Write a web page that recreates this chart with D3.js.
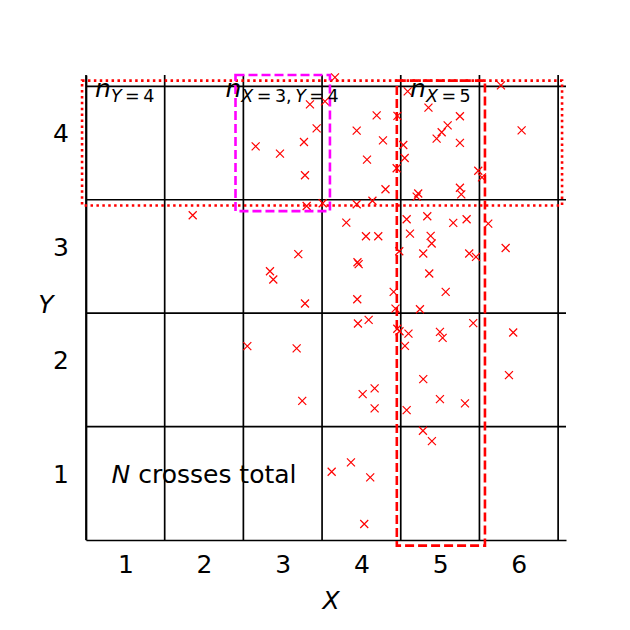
<!DOCTYPE html>
<html>
<head>
<meta charset="utf-8">
<script src="https://cdn.jsdelivr.net/npm/d3@7"></script>
<style>
  html, body { margin: 0; padding: 0; background: #fff; }
  svg text { font-family: "DejaVu Sans", sans-serif; fill: #000; }
</style>
</head>
<body>
<svg id="chart" width="630" height="630"></svg>
<script>
// ---- data ----
const xTicks = [1, 2, 3, 4, 5, 6];
const yTicks = [1, 2, 3, 4];
const xLines = [0.5, 1.5, 2.5, 3.5, 4.5, 5.5, 6.5];
const yLines = [1.42, 2.42, 3.42, 4.42];

const crossX = [5.773, 3.664, 3.346, 3.537, 3.431, 2.656, 2.965, 3.270, 3.283, 3.304,
  3.508, 1.856, 4.194, 4.458, 4.588, 4.852, 3.940, 4.274, 4.071, 4.448,
  4.532, 4.550, 4.306, 4.140, 3.940, 4.956, 5.020, 5.096, 5.252, 5.252,
  5.485, 5.532, 4.722, 4.702, 5.252, 5.269, 6.036, 3.808, 4.058, 3.198,
  2.838, 2.880, 3.950, 3.965, 3.283, 3.947, 3.956, 4.092, 4.214, 4.410,
  4.433, 4.481, 4.575, 4.617, 4.456, 4.484, 4.598, 4.744, 4.837, 5.167,
  5.337, 5.612, 4.880, 4.893, 4.786, 5.370, 5.456, 5.833, 4.862, 5.071,
  5.421, 4.998, 5.032, 4.553, 5.929, 4.786, 5.875, 4.998, 5.316, 4.575,
  4.782, 4.896, 2.550, 3.177, 3.248, 4.016, 4.168, 4.168, 3.622, 3.867,
  4.112, 4.036];
const crossY = [4.429, 4.499, 4.261, 4.288, 4.050, 3.891, 3.827, 3.929, 3.636, 3.365,
  3.389, 3.283, 4.164, 4.160, 4.376, 4.232, 4.030, 3.944, 3.774, 3.698,
  3.903, 3.788, 3.513, 3.411, 3.380, 3.959, 4.015, 4.076, 4.156, 3.922,
  3.676, 3.618, 3.475, 3.448, 3.526, 3.467, 4.032, 3.219, 3.098, 2.940,
  2.790, 2.717, 2.869, 2.852, 2.505, 2.543, 2.329, 2.361, 3.098, 2.608,
  2.460, 2.966, 3.248, 3.122, 2.283, 2.261, 2.239, 2.455, 3.275, 3.216,
  3.248, 3.210, 3.101, 3.034, 2.946, 2.946, 2.916, 2.995, 2.770, 2.608,
  2.332, 2.255, 2.202, 2.132, 2.250, 1.839, 1.874, 1.662, 1.624, 1.565,
  1.383, 1.292, 2.129, 2.109, 1.647, 1.706, 1.757, 1.580, 1.022, 1.105,
  0.972, 0.561];

// highlight boxes: [x0, x1, y0, y1]
const rowBox = [0.45, 6.55, 3.37, 4.47];
const cellBox = [2.40, 3.60, 3.32, 4.52];
const colBox = [4.45, 5.57, 0.37, 4.47];

// annotation labels
const labelNames = ["n", "n", "n"];
const labelSubs = [
  [["Y", true], ["\u2009=\u20094", false]],
  [["X", true], ["\u2009=\u20093,\u2009", false], ["Y", true], ["\u2009=\u20094", false]],
  [["X", true], ["\u2009=\u20095", false]]
];
const labelX = [0.615, 2.272, 4.618];
const labelY = [4.324, 4.324, 4.324];
const totalText = "crosses total";
const totalPos = [2, 1];

// ---- drawing ----
const svg = d3.select("#chart");
const x = d3.scaleLinear().domain([0.5, 6.6]).range([86, 566]);
const y = d3.scaleLinear().domain([0.42, 4.52]).range([540, 75]);
const FS = 25;
const LW = 1.7;

// grid lines
svg.append("g").selectAll("line").data(xLines).join("line")
  .attr("x1", d => x(d)).attr("x2", d => x(d))
  .attr("y1", y(0.42)).attr("y2", y(4.52))
  .attr("stroke", "#000").attr("stroke-width", LW);
svg.append("g").selectAll("line").data(yLines).join("line")
  .attr("x1", x(0.5)).attr("x2", x(6.6))
  .attr("y1", d => y(d)).attr("y2", d => y(d))
  .attr("stroke", "#000").attr("stroke-width", LW);

// axes
const gx = svg.append("g").attr("transform", `translate(0,${y(0.42)})`)
  .call(d3.axisBottom(x).tickValues(xTicks).tickSize(0).tickSizeOuter(0).tickPadding(15).tickFormat(d3.format("d")));
gx.select(".domain").attr("stroke", "#000").attr("stroke-width", LW);
gx.selectAll("text").attr("font-size", FS).attr("font-family", "DejaVu Sans");

const gy = svg.append("g").attr("transform", `translate(${x(0.5)},0)`)
  .call(d3.axisLeft(y).tickValues(yTicks).tickSize(0).tickSizeOuter(0).tickPadding(17).tickFormat(d3.format("d")));
gy.select(".domain").attr("stroke", "#000").attr("stroke-width", LW);
gy.selectAll("text").attr("font-size", FS).attr("font-family", "DejaVu Sans");

// axis labels
svg.append("text").attr("x", 331).attr("y", 609).attr("text-anchor", "middle")
  .attr("font-size", FS).attr("font-style", "italic").text("X");
svg.append("text").attr("x", 46).attr("y", 313).attr("text-anchor", "middle")
  .attr("font-size", FS).attr("font-style", "italic").text("Y");

// crosses
const pts = crossX.map((v, i) => [v, crossY[i]]);
const s = 4;
svg.append("g").selectAll("path").data(pts).join("path")
  .attr("d", d => {
    const px = x(d[0]), py = y(d[1]);
    return `M${px - s},${py - s}L${px + s},${py + s}M${px - s},${py + s}L${px + s},${py - s}`;
  })
  .attr("stroke", "#ff0000").attr("stroke-width", 1.2).attr("fill", "none");

// boxes
function box(b, color, dash, w) {
  svg.append("rect")
    .attr("x", x(b[0])).attr("y", y(b[3]))
    .attr("width", x(b[1]) - x(b[0])).attr("height", y(b[2]) - y(b[3]))
    .attr("fill", "none").attr("stroke", color)
    .attr("stroke-width", w).attr("stroke-dasharray", dash);
}
box(rowBox, "#ff0000", "2.5,3.4", 2.6);
box(cellBox, "#ff00ff", "9,4", 2.6);
box(colBox, "#ff0000", "9,4", 2.6);

// n labels
labelNames.forEach((nm, i) => {
  const t = svg.append("text").attr("x", x(labelX[i])).attr("y", y(labelY[i]))
    .attr("font-size", FS);
  t.append("tspan").attr("font-style", "italic").text(nm);
  labelSubs[i].forEach((part, j) => {
    const ts = t.append("tspan").attr("font-size", FS * 0.7)
      .attr("font-style", part[1] ? "italic" : "normal").text(part[0]);
    if (j === 0) ts.attr("dy", 5);
  });
});

// total text
const tt = svg.append("text").attr("x", x(totalPos[0])).attr("y", y(totalPos[1]))
  .attr("dy", "0.35em").attr("text-anchor", "middle").attr("font-size", FS);
tt.append("tspan").attr("font-style", "italic").text("N");
tt.append("tspan").text(" " + totalText);
</script>
</body>
</html>
